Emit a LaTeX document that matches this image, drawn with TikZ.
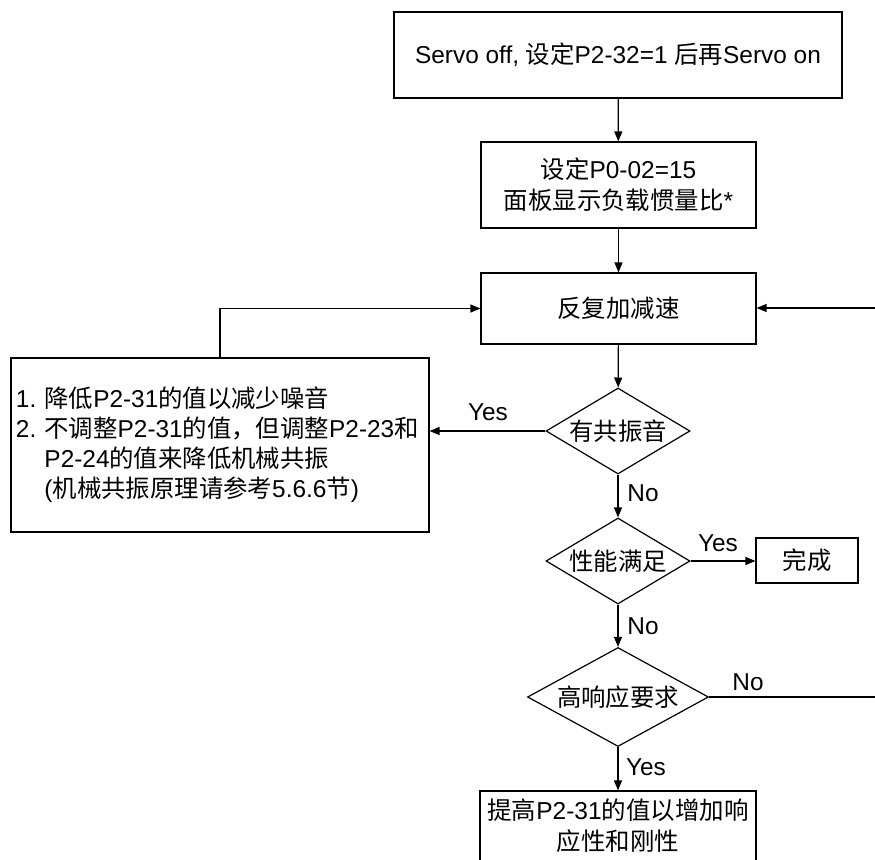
\documentclass[tikz,border=0pt]{standalone}
\usepackage{fontspec}
\setmainfont{Liberation Sans}
\newfontfamily\cjk{Noto Sans CJK SC}
\newcommand\zh[1]{{\cjk #1}}
\frenchspacing
\usetikzlibrary{shapes.geometric,arrows.meta}
\tikzset{
  box/.style={draw, rectangle, line width=1.2pt, inner sep=0pt, align=center},
  dia/.style={draw, diamond, line width=1.2pt, inner sep=0pt},
  arr/.style={-{Triangle[length=10pt,width=8pt]}, line width=1.2pt},
  ln/.style={line width=1.2pt},
  lbl/.style={inner sep=0pt},
}
\begin{document}
\frenchspacing
\begin{tikzpicture}[x=1pt,y=-1pt,font=\fontsize{24.4}{31}\selectfont]
\useasboundingbox (0,0) rectangle (875,859);
\clip (0,0) rectangle (875,859);
\fill[white] (0,0) rectangle (875,859);

\node[box, minimum width=448pt, minimum height=86pt] (top) at (618,55)
  {Servo off, \zh{设定}P2-32=1 \zh{后再}Servo on};
\node[box, minimum width=275pt, minimum height=86pt] (set) at (618.5,185)
  {\zh{设定}P0-02=15\\\zh{面板显示负载惯量比}*};
\node[box, minimum width=275pt, minimum height=71pt] (rep) at (618.5,308.5)
  {\zh{反复加减速}};
\node[dia, aspect=1.67, minimum width=144pt, minimum height=86pt] (d1) at (618,431)
  {\zh{有共振音}};
\node[dia, aspect=1.67, minimum width=144pt, minimum height=86pt] (d2) at (618,561)
  {\zh{性能满足}};
\node[box, minimum width=102pt, minimum height=45pt] (done) at (807,560.5)
  {\zh{完成}};
\node[dia, aspect=1.83, minimum width=181pt, minimum height=99pt] (d3) at (618,697)
  {\zh{高响应要求}};
\node[box, minimum width=276pt, minimum height=70pt, font=\fontsize{24.5}{31}\selectfont] (fin) at (618,826)
  {\zh{提高}P2-31\zh{的值以增加响}\\\zh{应性和刚性}};
\node[box, text width=408pt, inner xsep=5pt, minimum height=174pt, align=left,
      font=\fontsize{24.4}{30}\selectfont\frenchspacing] (fb) at (220,445)
  {1. \zh{降低}P2-31\zh{的值以减少噪音}\\
   2. \zh{不调整}P2-31\zh{的值，但调整}P2-23\zh{和}\\
   \phantom{2.}\ P2-24\zh{的值来降低机械共振}\\
   \phantom{2.}\ (\zh{机械共振原理请参考}5.6.6\zh{节})};

\coordinate (r1) at (890,697);
\coordinate (r2) at (890,308);

\draw[arr] (top) -- (set);
\draw[arr] (set) -- (rep);
\draw[arr] (rep) -- (d1);
\draw[arr] (d1.west) -- (d1.west -| fb.east);
\draw[arr] (d1) -- (d2);
\draw[arr] (d2.east) -- (d2.east -| done.west);
\draw[arr] (d2) -- (d3);
\draw[arr] (d3) -- (fin);
\draw[ln] (d3.east) -- (r1);
\draw[arr] (r2) -- (r2 -| rep.east);
\draw[arr] (fb.north) |- (rep.west);

\node[lbl] (y1) at (488,412) {Yes};
\node[lbl] (n1) at (643,493) {No};
\node[lbl] (y2) at (718,543) {Yes};
\node[lbl] (n2) at (643,626) {No};
\node[lbl] (n3) at (748,682) {No};
\node[lbl] (y3) at (646,767) {Yes};
\end{tikzpicture}
\end{document}
